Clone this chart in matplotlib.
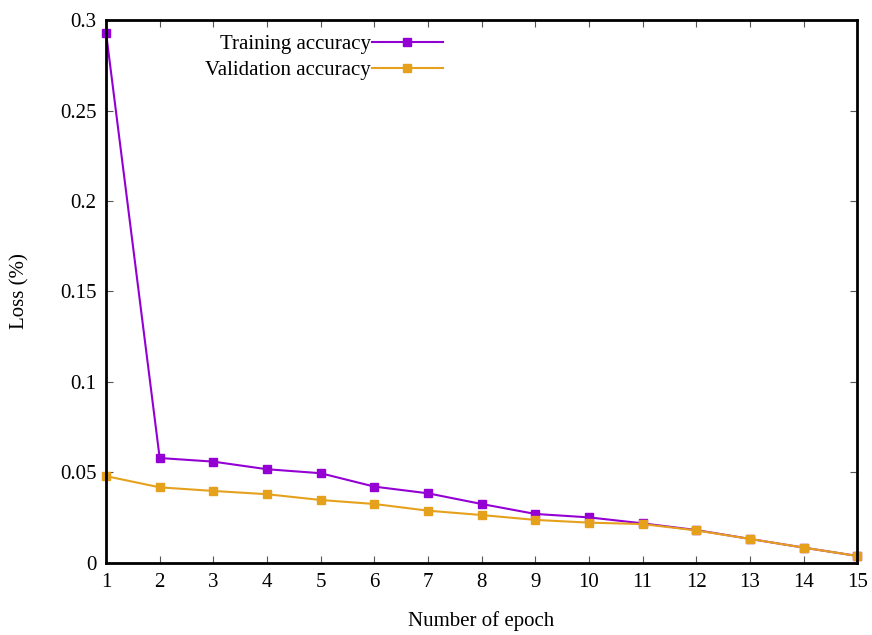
import matplotlib
matplotlib.use("Agg")
import matplotlib.pyplot as plt

# epochs and loss values
epochs = list(range(1, 16))
train_loss = [0.293, 0.058, 0.056, 0.0518, 0.0496, 0.0422, 0.0385, 0.0326,
              0.0271, 0.0252, 0.0219, 0.0182, 0.0133, 0.0085, 0.0039]
val_loss = [0.048, 0.0418, 0.0398, 0.038, 0.0348, 0.0326, 0.0289, 0.0265,
            0.0238, 0.0223, 0.0215, 0.018, 0.0133, 0.0085, 0.0039]
yticks = [0, 0.05, 0.1, 0.15, 0.2, 0.25, 0.3]
ytick_labels = ["0", "0.05", "0.1", "0.15", "0.2", "0.25", "0.3"]

plt.rcParams['font.family'] = ['Liberation Serif', 'DejaVu Serif']
plt.rcParams['font.size'] = 15

fig = plt.figure(figsize=(8.72, 6.35), dpi=100)
ax = fig.add_axes([0.1216, 0.1134, 0.8614, 0.8551])

ax.plot(epochs, train_loss, color='#9400d3', marker='s', markersize=5.5,
        linewidth=1.5, label='Training accuracy', clip_on=False)
ax.plot(epochs, val_loss, color='#e5a11c', marker='s', markersize=5.5,
        linewidth=1.5, label='Validation accuracy', clip_on=False)

ax.set_xlim(1, 15)
ax.set_ylim(0, 0.3)
ax.set_xticks(epochs)
ax.set_yticks(yticks)
ax.set_yticklabels(ytick_labels)
ax.tick_params(direction='in', top=True, right=True, length=5, width=0.8,
               color='#555555', pad=7)
for s in ax.spines.values():
    s.set_linewidth(2)

ax.set_xlabel("Number of epoch", labelpad=14)
ax.set_ylabel("Loss (%)", labelpad=22)

ax.legend(loc='upper right', bbox_to_anchor=(0.462, 0.993), frameon=False,
          markerfirst=False, handlelength=3.4, handletextpad=0.05,
          labelspacing=0.32, borderaxespad=0.2, borderpad=0.3)

fig.savefig('out.png', dpi=100)
